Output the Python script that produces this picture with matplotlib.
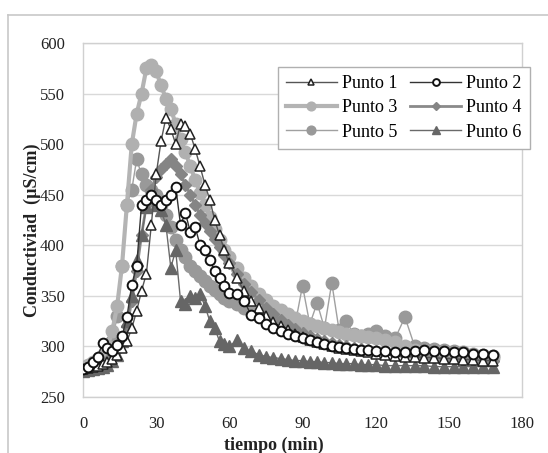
import matplotlib
matplotlib.use("Agg")
import matplotlib.pyplot as plt
from matplotlib.lines import Line2D

t = [0, 2, 4, 6, 8, 10, 12, 14, 16, 18, 20, 22, 24, 26, 28, 30, 32, 34, 36, 38, 40,
     42, 44, 46, 48, 50, 52, 54, 56, 58, 60, 63, 66, 69, 72, 75, 78, 81, 84, 87, 90,
     93, 96, 99, 102, 105, 108, 111, 114, 117, 120, 124, 128, 132, 136, 140, 144,
     148, 152, 156, 160, 164, 168]

punto1 = [278, 279, 280, 281, 283, 285, 288, 292, 298, 305, 318, 335, 355, 372, 420, 470,
          503, 526, 515, 500, 520, 518, 510, 495, 478, 460, 445, 425, 410, 395, 382,
          368, 355, 345, 338, 330, 324, 320, 316, 312, 309, 306, 304, 302, 300, 298,
          297, 296, 295, 294, 293, 292, 291, 290, 290, 289, 289, 288, 288, 287, 287,
          286, 286]
punto2 = [278, 280, 285, 290, 303, 298, 295, 301, 310, 329, 361, 380, 440, 445, 450, 445,
          440, 445, 450, 458, 420, 432, 413, 418, 400, 395, 385, 375, 368, 360, 353,
          352, 345, 331, 328, 322, 318, 315, 312, 310, 308, 306, 304, 302, 300, 299,
          298, 297, 296, 296, 295, 295, 294, 294, 295, 296, 295, 295, 294, 294, 293,
          293, 292]
punto3 = [280, 282, 285, 288, 292, 300, 315, 340, 380, 440, 500, 530, 550, 575, 578, 572,
          558, 545, 535, 520, 505, 492, 478, 465, 452, 440, 428, 416, 405, 395, 388,
          378, 368, 360, 352, 346, 340, 336, 332, 328, 325, 322, 320, 318, 316, 314,
          312, 311, 310, 309, 308, 306, 304, 300, 296, 294, 293, 292, 291, 290, 290,
          289, 289]
punto4 = [277, 278, 279, 281, 283, 286, 290, 296, 305, 320, 345, 375, 410, 440, 455, 468,
          475, 480, 485, 478, 470, 460, 450, 440, 430, 422, 414, 406, 398, 390, 382,
          372, 362, 354, 346, 338, 332, 326, 321, 317, 313, 310, 307, 305, 303, 301,
          300, 298, 297, 296, 295, 294, 293, 292, 291, 290, 289, 288, 288, 287, 287,
          286, 286]
punto5 = [279, 281, 283, 286, 290, 296, 305, 330, 380, 440, 455, 485, 470, 460, 455, 450,
          440, 430, 418, 405, 395, 388, 380, 375, 370, 365, 360, 356, 352, 348, 345,
          342, 338, 335, 332, 330, 328, 326, 324, 322, 360, 322, 343, 318, 363, 316,
          325, 312, 310, 312, 315, 310, 308, 329, 300, 298, 297, 296, 295, 294, 293,
          292, 291]
punto6 = [276, 277, 278, 279, 280, 282, 286, 292, 305, 325, 350, 385, 410, 438, 448, 440,
          435, 420, 378, 395, 345, 342, 350, 348, 352, 340, 325, 318, 305, 302, 300,
          306, 298, 295, 292, 290, 289, 288, 287, 286, 286, 285, 285, 284, 284, 283,
          283, 283, 282, 282, 282, 281, 281, 281, 281, 281, 280, 280, 280, 280, 280,
          280, 280]

labels = ["Punto 1", "Punto 2", "Punto 3", "Punto 4", "Punto 5", "Punto 6"]
xticks = [0, 30, 60, 90, 120, 150, 180]
yticks = [250, 300, 350, 400, 450, 500, 550, 600]

plt.rcParams['font.family'] = ['Liberation Serif', 'DejaVu Serif']

fig = plt.figure(figsize=(5.48, 4.53), dpi=100)
ax = fig.add_axes([83/548, 1-397/453, (522-83)/548, (397-43)/453])

styles = [
    dict(color="#555555", lw=1.0, marker="^", ms=7, mfc="white", mec="#222222", mew=1.1, zorder=6),
    dict(color="#333333", lw=1.0, marker="o", ms=7, mfc="white", mec="#111111", mew=1.4, zorder=7),
    dict(color="#b4b4b4", lw=3.0, marker="o", ms=9, mfc="#b0b0b0", mec="#b0b0b0", zorder=3),
    dict(color="#8a8a8a", lw=2.0, marker="D", ms=6, mfc="#858585", mec="#858585", zorder=4),
    dict(color="#a0a0a0", lw=1.0, marker="o", ms=9, mfc="#999999", mec="#999999", zorder=2),
    dict(color="#6a6a6a", lw=1.0, marker="^", ms=8, mfc="#666666", mec="#666666", zorder=5),
]
series = [punto1, punto2, punto3, punto4, punto5, punto6]
handles = []
for s, lab, st in zip(series, labels, styles):
    h, = ax.plot(t, s, label=lab, **st)
    handles.append(h)

ax.set_xlim(0, 180)
ax.set_ylim(250, 600)
ax.set_xticks(xticks)
ax.set_yticks(yticks)
ax.tick_params(length=0, labelsize=12, colors="#222222")
ax.tick_params(axis="x", pad=14)
ax.tick_params(axis="y", pad=13)
ax.grid(axis="y", color="#d9d9d9", lw=1.0)
ax.set_axisbelow(True)
for sp in ax.spines.values():
    sp.set_color("#d0d0d0")
    sp.set_linewidth(1.0)

order = [0, 2, 4, 1, 3, 5]
leg = ax.legend([handles[i] for i in order], [labels[i] for i in order], ncol=2,
                loc="upper left", borderaxespad=0,
                bbox_to_anchor=((278-83)/439, 1-(67-43)/354),
                fontsize=13, frameon=True, fancybox=False, markerscale=0.7,
                edgecolor="#b0b0b0", framealpha=1, borderpad=0.45,
                handlelength=2.8, columnspacing=0.7, handletextpad=0.3,
                labelspacing=0.4)
leg.get_frame().set_linewidth(1.0)
leg.set_zorder(10)

fig.text(274/548, 1-445/453, "tiempo (min)", ha="center", va="center",
         fontsize=13, fontweight="bold", color="#222222")
fig.text(32/548, 1-230/453, "Conductiviad  (\u00b5S/cm)", ha="center", va="center",
         rotation=90, fontsize=13, fontweight="bold", color="#222222")

fig.add_artist(Line2D([8/548, 8/548], [0, 1-15/453], color="#c8c8c8", lw=1.2,
                      transform=fig.transFigure))
fig.add_artist(Line2D([8/548, 1], [1-15/453, 1-15/453], color="#c8c8c8", lw=1.2,
                      transform=fig.transFigure))

fig.savefig("out.png", dpi=100)
